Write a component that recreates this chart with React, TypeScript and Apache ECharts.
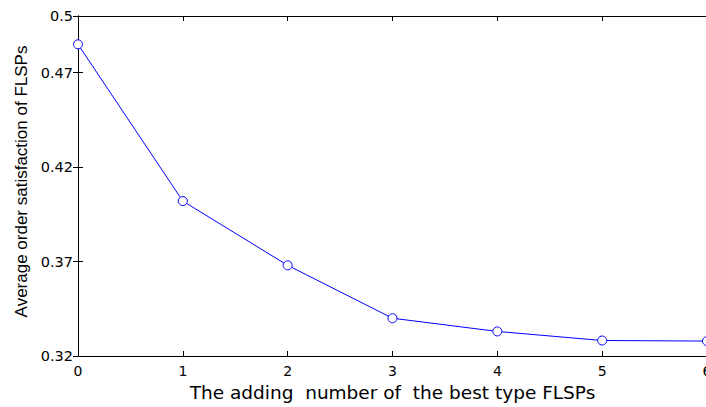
import React, { useEffect, useRef } from "react";
import * as echarts from "echarts";

const xValues = [0, 1, 2, 3, 4, 5, 6];
const yValues = [0.485, 0.402, 0.368, 0.340, 0.333, 0.3282, 0.3279];
const yTicks = [0.32, 0.37, 0.42, 0.47, 0.5];
const xTicks = [0, 1, 2, 3, 4, 5, 6];
const xTitle = "The adding  number of  the best type FLSPs";
const yTitle = "Average order satisfaction of FLSPs";

export default function App() {
  const ref = useRef<HTMLDivElement>(null);
  useEffect(() => {
    document.body.style.margin = "0";
    const chart = echarts.init(ref.current!, null, { renderer: "svg" });
    const wide = "DejaVu Sans, sans-serif";
    const narrow = "Liberation Sans, Arial, sans-serif";
    const axisLine = { show: true, lineStyle: { color: "#000", width: 1 } };
    const tick = { show: true, inside: true, length: 5, lineStyle: { color: "#000" } };
    chart.setOption({
      animation: false,
      backgroundColor: "#fff",
      grid: { left: 78, top: 16, right: -1, bottom: 51, containLabel: false, outerBoundsMode: "none" },
      xAxis: [
        {
          type: "value",
          min: 0,
          max: 6,
          interval: 1,
          position: "bottom",
          axisLine,
          axisTick: { ...tick, customValues: xTicks },
          axisLabel: { color: "#000", fontSize: 14, fontFamily: wide, margin: 8, customValues: xTicks },
          splitLine: { show: false },
          name: xTitle,
          nameLocation: "middle",
          nameGap: 24,
          nameTextStyle: { color: "#000", fontSize: 18.5, fontFamily: wide, verticalAlign: "top" },
        },
        {
          type: "value",
          min: 0,
          max: 6,
          interval: 1,
          position: "top",
          axisLine,
          axisTick: { ...tick, customValues: xTicks },
          axisLabel: { show: false },
          splitLine: { show: false },
        },
      ],
      yAxis: [
        {
          type: "value",
          min: 0.32,
          max: 0.5,
          position: "left",
          axisLine,
          axisTick: { ...tick, customValues: yTicks },
          axisLabel: { color: "#000", fontSize: 14.5, fontFamily: wide, margin: 5, customValues: yTicks, formatter: (v: number) => String(+v.toFixed(2)) },
          splitLine: { show: false },
          name: yTitle,
          nameLocation: "middle",
          nameGap: 41,
          nameTextStyle: { color: "#000", fontSize: 17, fontFamily: narrow, padding: [0, 0, 0, 9] },
        },
        {
          type: "value",
          min: 0.32,
          max: 0.5,
          position: "right",
          axisLine,
          axisTick: { ...tick, customValues: yTicks },
          axisLabel: { show: false },
          splitLine: { show: false },
        },
      ],
      series: [
        {
          type: "line",
          data: xValues.map((x, i) => [x, yValues[i]]),
          symbol: "circle",
          symbolSize: 9,
          showSymbol: true,
          lineStyle: { color: "#0000ff", width: 1 },
          itemStyle: { color: "#fff", borderColor: "#0000ff", borderWidth: 1 },
          clip: false,
        },
      ],
    });
    return () => chart.dispose();
  }, []);
  return <div ref={ref} style={{ width: 706, height: 407 }} />;
}
